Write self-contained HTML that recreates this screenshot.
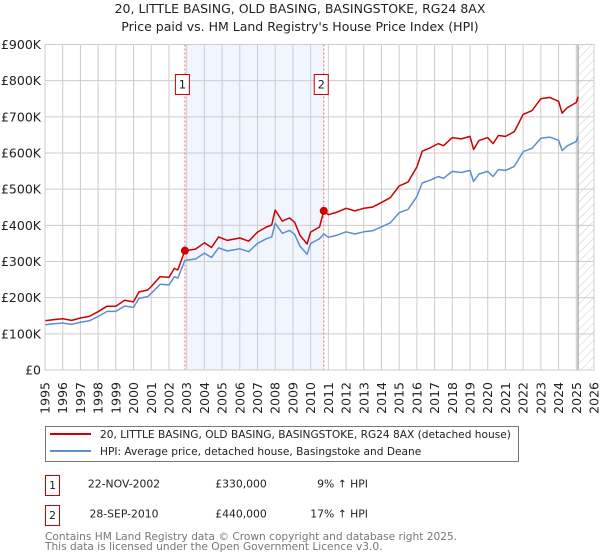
<!DOCTYPE html>
<html><head><meta charset="utf-8">
<style>
body{margin:0;background:#fff;font-family:"DejaVu Sans","Liberation Sans",sans-serif;}
svg{display:block}
</style></head>
<body>
<svg id="chart" width="600" height="560" xmlns="http://www.w3.org/2000/svg" font-family="DejaVu Sans, Liberation Sans, sans-serif">
<defs>
<pattern id="hatch" width="6" height="6" patternUnits="userSpaceOnUse" patternTransform="rotate(45)">
<line x1="0" y1="0" x2="0" y2="6" stroke="#ccc" stroke-width="1"/>
</pattern>
</defs>
<text x="300" y="13" text-anchor="middle" font-size="12.5" fill="#222">20, LITTLE BASING, OLD BASING, BASINGSTOKE, RG24 8AX</text>
<text x="300" y="31" text-anchor="middle" font-size="12.5" fill="#222">Price paid vs. HM Land Registry's House Price Index (HPI)</text>
<g id="plot"></g>
<g id="legend">
<rect x="45.5" y="426.5" width="473" height="35" fill="#fff" stroke="#777"/>
<line x1="50" y1="434" x2="91" y2="434" stroke="#cc0000" stroke-width="2"/>
<text x="100" y="438" font-size="10.6" fill="#222">20, LITTLE BASING, OLD BASING, BASINGSTOKE, RG24 8AX (detached house)</text>
<line x1="50" y1="451" x2="91" y2="451" stroke="#5b8fd0" stroke-width="2"/>
<text x="100" y="455" font-size="10.6" fill="#222">HPI: Average price, detached house, Basingstoke and Deane</text>
</g>
<g font-size="10.8" fill="#222">
<rect x="45.5" y="475.5" width="14" height="20" fill="#fff" stroke="#cc0000"/>
<text x="52.5" y="489" text-anchor="middle">1</text>
<text x="124" y="487.5" text-anchor="middle">22-NOV-2002</text>
<text x="241" y="487.5" text-anchor="middle">£330,000</text>
<text x="368" y="487.5" text-anchor="end">9% ↑ HPI</text>
<rect x="45.5" y="505.5" width="14" height="20" fill="#fff" stroke="#cc0000"/>
<text x="52.5" y="519" text-anchor="middle">2</text>
<text x="124" y="517.5" text-anchor="middle">28-SEP-2010</text>
<text x="241" y="517.5" text-anchor="middle">£440,000</text>
<text x="368" y="517.5" text-anchor="end">17% ↑ HPI</text>
</g>
<text x="45" y="540" font-size="10.6" fill="#777">Contains HM Land Registry data © Crown copyright and database right 2025.</text>
<text x="45" y="550" font-size="10.6" fill="#777">This data is licensed under the Open Government Licence v3.0.</text>
</svg>
<script>
const hpiYears = [1995,1995.5,1996,1996.5,1997,1997.5,1998,1998.5,1999,1999.5,2000,2000.3,2000.8,2001,2001.5,2002,2002.3,2002.5,2002.9,2003.5,2004,2004.4,2004.8,2005.3,2006,2006.5,2007,2007.5,2007.8,2008,2008.4,2008.8,2009.1,2009.4,2009.8,2010,2010.5,2010.74,2011,2011.5,2012,2012.5,2013,2013.5,2014,2014.5,2015,2015.5,2016,2016.3,2016.8,2017.2,2017.5,2018,2018.5,2019,2019.2,2019.5,2020,2020.3,2020.6,2021,2021.5,2022,2022.5,2023,2023.5,2024,2024.2,2024.5,2025,2025.1];
const hpiValues = [125,128,130,126,132,136,148,162,162,177,173,198,203,212,237,235,258,254,303,307,323,311,338,329,335,327,350,363,368,406,378,386,375,342,320,350,363,376,367,373,382,376,382,385,396,407,435,444,480,517,526,535,530,549,546,552,521,542,549,535,554,552,563,604,613,641,644,635,607,620,632,646];
const saleYears = [2002.9,2010.74];
const salePrices = [330,440];
const yTicks = [0,100,200,300,400,500,600,700,800,900];
const yTickLabels = ["£0","£100K","£200K","£300K","£400K","£500K","£600K","£700K","£800K","£900K"];
const xTicks = [1995,1996,1997,1998,1999,2000,2001,2002,2003,2004,2005,2006,2007,2008,2009,2010,2011,2012,2013,2014,2015,2016,2017,2018,2019,2020,2021,2022,2023,2024,2025,2026];

const L=45,R=594,T=44.5,B=370;
const x=y=>L+(y-1995)/(2026-1995)*(R-L);
const yS=v=>B-v/900*(B-T);
const NS="http://www.w3.org/2000/svg";
const g=document.getElementById('plot');
function mk(tag,attrs,parent){const e=document.createElementNS(NS,tag);for(const k in attrs)e.setAttribute(k,attrs[k]);(parent||g).appendChild(e);return e;}
function hpiAt(yr){for(let i=0;i<hpiYears.length-1;i++){if(yr>=hpiYears[i]&&yr<=hpiYears[i+1]){const t=(yr-hpiYears[i])/(hpiYears[i+1]-hpiYears[i]);return hpiValues[i]+t*(hpiValues[i+1]-hpiValues[i]);}}return hpiValues[hpiValues.length-1];}

let r=mk('rect',{x:x(saleYears[0]),y:T,width:x(saleYears[1])-x(saleYears[0]),height:B-T,fill:'#eef3fc',opacity:0.8});


r=mk('rect',{x:x(2025.1),y:T,width:R-x(2025.1),height:B-T,fill:'url(#hatch)'});


yTicks.forEach((v,i)=>{
  const l=mk('line',{x1:L,x2:R,y1:yS(v),y2:yS(v),stroke:'#cccccc','stroke-width':1});
  
  
  const t=mk('text',{x:L-4,y:yS(v)+4.5,'text-anchor':'end','font-size':12.5,fill:'#222'});
  t.textContent=yTickLabels[i];
  
  
});
xTicks.forEach(yr=>{
  const l=mk('line',{x1:x(yr),x2:x(yr),y1:T,y2:B,stroke:'#cccccc','stroke-width':1});
  
  
  const t=mk('text',{x:0,y:0,'text-anchor':'end','font-size':12.5,fill:'#222',transform:`translate(${x(yr)+4.5},${B+12}) rotate(-90)`});
  t.textContent=yr;
  
  
});
let v=mk('line',{x1:x(2025.1),x2:x(2025.1),y1:T,y2:B,stroke:'#999','stroke-width':1.2});


saleYears.forEach((yr,i)=>{
  const l=mk('line',{x1:x(yr),x2:x(yr),y1:T,y2:B,stroke:'#ff6666','stroke-width':1,'stroke-dasharray':'2,2'});
  
  
  const b=mk('rect',{x:x(yr)-9.5,y:74.5,width:14,height:20,fill:'#fff',stroke:'#cc0000'});
  
  
  const t=mk('text',{x:x(yr)-2.5,y:88.5,'text-anchor':'middle','font-size':11.5,fill:'#222'});
  t.textContent=(i+1);
  
  
});
let d=hpiYears.map((yr,i)=>(i?'L':'M')+x(yr).toFixed(1)+','+yS(hpiValues[i]).toFixed(1)).join('');
let p=mk('path',{d:d,fill:'none',stroke:'#5b8fd0','stroke-width':1.5,'stroke-linejoin':'round'});


d=hpiYears.map((yr,i)=>{
  const k=yr<saleYears[1]?0:1;
  const val=salePrices[k]*hpiValues[i]/hpiAt(saleYears[k]);
  return (i?'L':'M')+x(yr).toFixed(1)+','+yS(val).toFixed(1);
}).join('');
p=mk('path',{d:d,fill:'none',stroke:'#cc0000','stroke-width':1.5,'stroke-linejoin':'round'});


saleYears.forEach((yr,i)=>{
  const c=mk('circle',{cx:x(yr),cy:yS(salePrices[i]),r:4,fill:'#cc0000'});
  
  
});
let f=mk('rect',{x:L,y:T,width:R-L,height:B-T,fill:'none',stroke:'#cccccc'});


</script>
</body></html>
